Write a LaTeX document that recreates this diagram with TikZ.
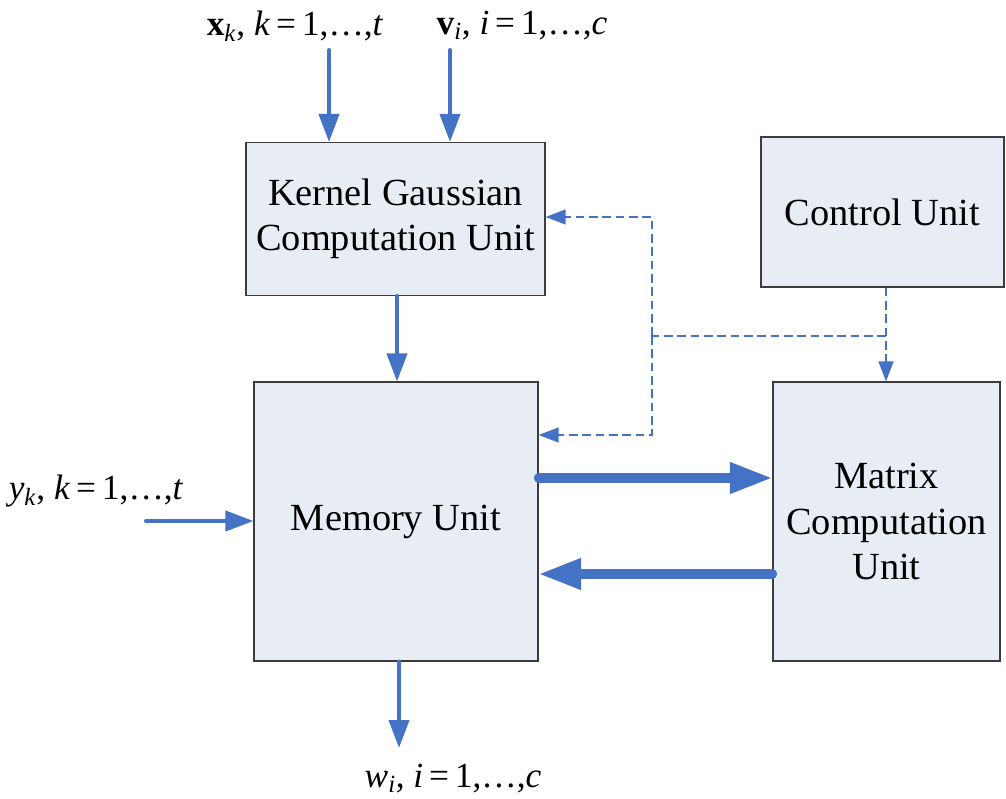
\documentclass[tikz,border=0pt]{standalone}
\usepackage{fontspec}
\setmainfont{Liberation Serif}
\usetikzlibrary{arrows.meta}
\definecolor{flowblue}{RGB}{68,114,196}
\definecolor{boxfill}{RGB}{232,236,244}
\definecolor{boxline}{RGB}{60,60,60}
\tikzset{
  unitbox/.style={draw=boxline, line width=0.8pt, fill=boxfill, rectangle,
    align=center, inner sep=0pt, font=\fontsize{28.8}{34}\selectfont},
  lbl/.style={inner sep=0pt, font=\fontsize{26.5}{32}\selectfont},
  flow/.style={draw=flowblue, line width=3pt, line cap=round,
    -{Triangle[length=21pt,width=15pt]}},
  bigflow/.style={draw=flowblue, line width=7pt, line cap=round,
    -{Triangle[length=32pt,width=22pt]}},
  ctrlline/.style={draw=flowblue, line width=1.6pt, dash pattern=on 6.5pt off 3.5pt},
  ctrlflow/.style={ctrlline, -{Triangle[length=15pt,width=11pt]}}
}
\begin{document}
\begin{tikzpicture}[x=0.75pt, y=-0.75pt]
\useasboundingbox (0,0) rectangle (1006,799);

% functional units
\node[unitbox, minimum width=224.25pt, minimum height=114.75pt] (kernel) at (395.5,219)
  {Kernel Gaussian\\Computation Unit};
\node[unitbox, minimum width=182.25pt, minimum height=112.5pt] (control) at (882.5,212)
  {Control Unit};
\node[unitbox, minimum width=213pt, minimum height=209.25pt] (memory) at (396,521.5)
  {Memory Unit};
\node[unitbox, minimum width=170.25pt, minimum height=209.25pt] (matrix) at (886.5,521.5)
  {Matrix\\Computation\\Unit};

% inputs and outputs
\node[lbl] (xlbl) at (295,26) {\textbf{x}\textsubscript{\textit{k}}, \textit{k}\,=\,1,\ldots,\textit{t}};
\node[lbl] (vlbl) at (522,26) {\textbf{v}\textsubscript{\textit{i}}, \textit{i}\,=\,1,\ldots,\textit{c}};
\node[lbl] (ylbl) at (96,491) {\textit{y}\textsubscript{\textit{k}}, \textit{k}\,=\,1,\ldots,\textit{t}};
\node[lbl] (wlbl) at (453,779) {\textit{w}\textsubscript{\textit{i}}, \textit{i}\,=\,1,\ldots,\textit{c}};

\coordinate (xin) at (329,50);
\coordinate (vin) at (450,50);
\coordinate (yin) at (146,521);
\coordinate (wout) at (399,748);
\coordinate (kx) at (397,0);

\draw[flow] (xin) -- (xin |- kernel.north);
\draw[flow] (vin) -- (vin |- kernel.north);
\draw[flow] (kx |- kernel.south) -- (kx |- memory.north);
\draw[flow] (yin) -- (memory.west |- yin);
\draw[flow] (wout |- memory.south) -- (wout);

% data exchange between memory and matrix unit
\coordinate (hi) at (0,478);
\coordinate (lo) at (0,574);
\draw[bigflow] (memory.east |- hi) -- (matrix.west |- hi);
\draw[bigflow] (matrix.west |- lo) -- (memory.east |- lo);

% control signals
\coordinate (cx) at (886,0);
\coordinate (junc) at (652,336);
\coordinate (jtop) at (652,217);
\coordinate (jbot) at (652,435);
\draw[ctrlflow] (cx |- control.south) -- (cx |- matrix.north);
\draw[ctrlline] (cx |- junc) -- (junc);
\draw[ctrlflow] (junc) -- (jtop) -- (kernel.east |- jtop);
\draw[ctrlflow] (junc) -- (jbot) -- (memory.east |- jbot);
\end{tikzpicture}
\end{document}
